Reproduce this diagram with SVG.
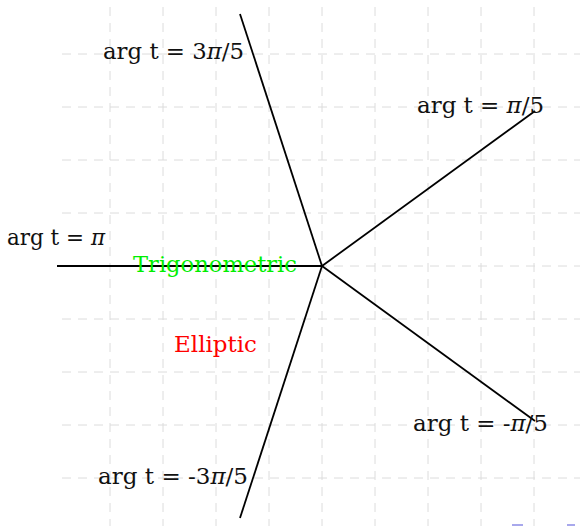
<svg xmlns="http://www.w3.org/2000/svg" width="580" height="526" viewBox="0 0 580 526">
<style>
.grid line{stroke:#dcdcdc;stroke-width:1;stroke-dasharray:9 7}
.ray{stroke:#000;stroke-width:1.8;fill:none;stroke-linecap:butt}
text{font-family:"DejaVu Serif","Liberation Serif",serif;font-size:22px;fill:#111}
.pi{font-style:italic}
</style>
<rect width="580" height="526" fill="#fff"/>
<g class="grid" id="grid">
<line x1="110" y1="7" x2="110" y2="526"/>
<line x1="163" y1="7" x2="163" y2="526"/>
<line x1="216" y1="7" x2="216" y2="526"/>
<line x1="269" y1="7" x2="269" y2="526"/>
<line x1="322" y1="7" x2="322" y2="526"/>
<line x1="375" y1="7" x2="375" y2="526"/>
<line x1="428" y1="7" x2="428" y2="526"/>
<line x1="481" y1="7" x2="481" y2="526"/>
<line x1="534" y1="7" x2="534" y2="526"/>
<line x1="62" y1="54" x2="580" y2="54"/>
<line x1="62" y1="107" x2="580" y2="107"/>
<line x1="62" y1="160" x2="580" y2="160"/>
<line x1="62" y1="213" x2="580" y2="213"/>
<line x1="62" y1="266" x2="580" y2="266"/>
<line x1="62" y1="319" x2="580" y2="319"/>
<line x1="62" y1="372" x2="580" y2="372"/>
<line x1="62" y1="425" x2="580" y2="425"/>
<line x1="62" y1="478" x2="580" y2="478"/>
</g>
<g id="marks" fill="#a8a8ec">
<rect x="512" y="524" width="11" height="2"/>
<rect x="567" y="524" width="8" height="2"/>
</g>
<g id="connectors">
<line class="ray" x1="322" y1="266" x2="57" y2="266"/>
<line class="ray" x1="322" y1="266" x2="240" y2="14"/>
<line class="ray" x1="322" y1="266" x2="535" y2="111"/>
<line class="ray" x1="322" y1="266" x2="535" y2="421"/>
<line class="ray" x1="322" y1="266" x2="240" y2="518"/>
</g>
<g id="label-3pi5"><text x="103" y="59" textLength="141" lengthAdjust="spacingAndGlyphs">arg t = 3<tspan class="pi">π</tspan>/5</text></g>
<g id="label-pi"><text x="7" y="245" textLength="98" lengthAdjust="spacingAndGlyphs">arg t = <tspan class="pi">π</tspan></text></g>
<g id="label-pi5"><text x="417" y="113" textLength="127" lengthAdjust="spacingAndGlyphs">arg t = <tspan class="pi">π</tspan>/5</text></g>
<g id="label-mpi5"><text x="413" y="431" textLength="135" lengthAdjust="spacingAndGlyphs">arg t = -<tspan class="pi">π</tspan>/5</text></g>
<g id="label-m3pi5"><text x="98" y="484" textLength="150" lengthAdjust="spacingAndGlyphs">arg t = -3<tspan class="pi">π</tspan>/5</text></g>
<g id="trigonometric"><text x="133" y="272" textLength="164" lengthAdjust="spacingAndGlyphs" style="fill:#00ee00">Trigonometric</text></g>
<g id="elliptic"><text x="174" y="352" textLength="83" lengthAdjust="spacingAndGlyphs" style="fill:#ff0000">Elliptic</text></g>
</svg>
